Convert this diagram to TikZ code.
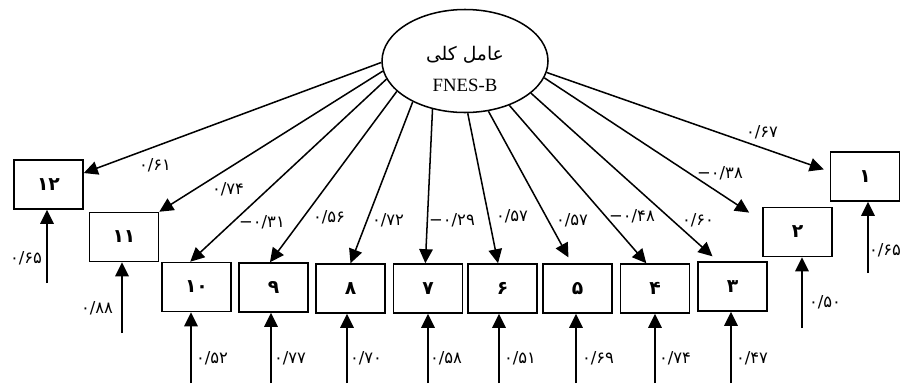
\documentclass[tikz,border=0pt]{standalone}
\usepackage{fontspec}
\setmainfont{Liberation Serif}
\newfontfamily\farsifont[Script=Arabic]{DejaVu Sans}
\newfontfamily\numfont{DejaVu Sans}
\TeXXeTstate=1
\usetikzlibrary{shapes.geometric,arrows.meta}
\begin{document}
\begin{tikzpicture}[x=0.03cm, y=-0.03cm,
  factor/.style={ellipse, draw, line width=1.3pt, minimum width=4.98cm, minimum height=3.09cm, inner sep=0pt},
  item/.style={draw, line width=1.3pt, minimum width=2.07cm, minimum height=1.47cm, inner sep=0pt, font=\numfont\bfseries\fontsize{16}{18}\selectfont},
  load/.style={line width=1.3pt, -{Triangle[length=12pt,width=11.5pt]}},
  err/.style={line width=1.3pt, -{Triangle[length=12pt,width=11.5pt]}},
  coef/.style={inner sep=0pt, font=\numfont\fontsize{14}{16}\selectfont}]
\useasboundingbox (0,0) rectangle (901,383);
\node[factor] (fac) at (465,61){};
\node[inner sep=0pt, font=\farsifont\fontsize{16}{18}\selectfont] (facfa) at (465,55){\beginR عامل کلی\endR};
\node[inner sep=0pt, font=\fontsize{16}{18}\selectfont] (facen) at (465,85){FNES-B};
\node[item] (it12) at (48.5,184.5){۱۲};
\node[item] (it11) at (124,237){۱۱};
\node[item] (it10) at (196.5,287){۱۰};
\node[item] (it9) at (273.5,287.5){۹};
\node[item] (it8) at (350.5,288.5){۸};
\node[item] (it7) at (428,288.5){۷};
\node[item] (it6) at (502.5,288.5){۶};
\node[item] (it5) at (577.5,288.5){۵};
\node[item] (it4) at (655,288.5){۴};
\node[item] (it3) at (732.5,286.5){۳};
\node[item] (it2) at (797.5,232){۲};
\node[item] (it1) at (865,176.5){۱};
\draw[load](fac.181) -- (it12.18);
\draw[load](fac.187) -- (it11.north east);
\draw[load](fac.193) -- (it10.104);
\draw[load](fac.204) -- (it9.98);
\draw[load](fac.218) -- (it8.north);
\draw[load](fac.236) -- (it7.96);
\draw[load](fac.273) -- (it6.100);
\draw[load, shorten >=0.2cm](fac.295) -- (it5.103);
\draw[load](fac.315) -- (it4.109);
\draw[load, shorten >=0.22cm](fac.334) -- (it3.120);
\draw[load, shorten >=0.47cm](fac.348) -- (it2.163);
\draw[load, shorten >=0.19cm](fac.352) -- (it1.172);
\node[coef] (ld12) at (155,165){۰/۶۱};
\node[coef] (ld11) at (228,189){۰/۷۴};
\node[coef] (ld10) at (262,222){−۰/۳۱};
\node[coef] (ld9) at (329,217){۰/۵۶};
\node[coef] (ld8) at (388,220){۰/۷۲};
\node[coef] (ld7) at (452,220){−۰/۲۹};
\node[coef] (ld6) at (512,216){۰/۵۷};
\node[coef] (ld5) at (572,220){۰/۵۷};
\node[coef] (ld4) at (632,216){−۰/۴۸};
\node[coef] (ld3) at (698,220){۰/۶۰};
\node[coef] (ld2) at (720,173){−۰/۳۸};
\node[coef] (ld1) at (762,132){۰/۶۷};
\coordinate (er12) at (47,283);
\coordinate (er11) at (122,333);
\coordinate (er10) at (191,383);
\coordinate (er9) at (271,383);
\coordinate (er8) at (347,383);
\coordinate (er7) at (428,383);
\coordinate (er6) at (499,383);
\coordinate (er5) at (576,383);
\coordinate (er4) at (655,383);
\coordinate (er3) at (731,383);
\coordinate (er2) at (802,328);
\coordinate (er1) at (868,273);
\draw[err](er12) -- (er12 |- it12.south);
\draw[err](er11) -- (er11 |- it11.south);
\draw[err](er10) -- (er10 |- it10.south);
\draw[err](er9) -- (er9 |- it9.south);
\draw[err](er8) -- (er8 |- it8.south);
\draw[err](er7) -- (er7 |- it7.south);
\draw[err](er6) -- (er6 |- it6.south);
\draw[err](er5) -- (er5 |- it5.south);
\draw[err](er4) -- (er4 |- it4.south);
\draw[err](er3) -- (er3 |- it3.south);
\draw[err](er2) -- (er2 |- it2.south);
\draw[err](er1) -- (er1 |- it1.south);
\node[coef] (ev12) at (26,258){۰/۶۵};
\node[coef] (ev11) at (97,308){۰/۸۸};
\node[coef] (ev10) at (212,358){۰/۵۲};
\node[coef] (ev9) at (290,358){۰/۷۷};
\node[coef] (ev8) at (366,358){۰/۷۰};
\node[coef] (ev7) at (446,358){۰/۵۸};
\node[coef] (ev6) at (520,358){۰/۵۱};
\node[coef] (ev5) at (598,358){۰/۶۹};
\node[coef] (ev4) at (675,358){۰/۷۴};
\node[coef] (ev3) at (752,358){۰/۴۷};
\node[coef] (ev2) at (825,302){۰/۵۰};
\node[coef] (ev1) at (885,250){۰/۶۵};
\end{tikzpicture}
\end{document}
